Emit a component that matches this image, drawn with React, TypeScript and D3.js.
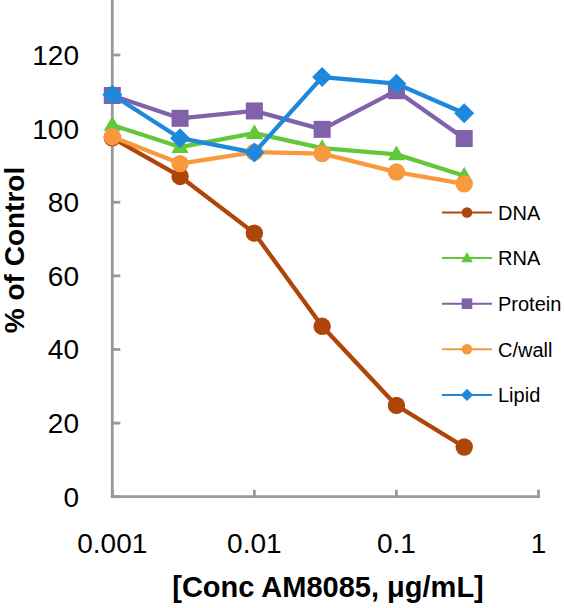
import React from "react";
import * as d3 from "d3";

const concentrations = [0.001, 0.003, 0.01, 0.03, 0.1, 0.3];
const dnaValues = [97.5, 87, 71.6, 46.3, 24.8, 13.5];
const rnaValues = [101, 95, 98.8, 94.7, 93, 87.2];
const proteinValues = [109, 102.8, 104.8, 99.8, 110.3, 97.3];
const cwallValues = [97.8, 90.5, 93.6, 93.2, 88.2, 85];
const lipidValues = [109.2, 97.4, 93.5, 114, 112.2, 104.2];

const seriesNames = ["DNA", "RNA", "Protein", "C/wall", "Lipid"];
const seriesColors = ["#B0450A", "#62C83A", "#8161AA", "#F8993E", "#1E88DC"];
const seriesMarkers = ["circle", "triangle", "square", "circle", "diamond"];
const seriesValues = [dnaValues, rnaValues, proteinValues, cwallValues, lipidValues];

const yTicks = [0, 20, 40, 60, 80, 100, 120];
const xTicks = [0.001, 0.01, 0.1, 1];
const xTickLabels = ["0.001", "0.01", "0.1", "1"];

const FONT = "'Liberation Sans', Arial, sans-serif";

function Marker({ type, cx, cy, s, color }: { type: string; cx: number; cy: number; s: number; color: string }) {
  if (type === "circle") return <circle cx={cx} cy={cy} r={s} fill={color} />;
  if (type === "square") return <rect x={cx - s} y={cy - s} width={2 * s} height={2 * s} fill={color} />;
  if (type === "diamond") {
    const d = s * 1.15;
    return <path d={`M${cx},${cy - d}L${cx + d},${cy}L${cx},${cy + d}L${cx - d},${cy}Z`} fill={color} />;
  }
  const h = s * 1.9;
  const w = s * 1.1;
  return <path d={`M${cx},${cy - h * 0.6}L${cx + w},${cy + h * 0.4}L${cx - w},${cy + h * 0.4}Z`} fill={color} />;
}

export default function App() {
  const W = 564;
  const H = 608;
  const x = d3.scaleLog().domain([0.001, 1]).range([112.3, 538.5]);
  const y = d3.scaleLinear().domain([0, 120]).range([496.7, 55]);
  const line = d3
    .line<[number, number]>()
    .x((d) => x(d[0]))
    .y((d) => y(d[1]));
  const axisColor = "#999999";
  const legendX0 = 442;
  const legendX1 = 492;
  const legendY0 = 212.5;
  const legendStep = 45.6;

  return (
    <svg
      width={W}
      height={H}
      style={{ position: "absolute", left: 0, top: 0, background: "#fff" }}
      fontFamily={FONT}
    >
      {/* axes */}
      <line x1={x(0.001)} x2={x(0.001)} y1={0} y2={y(0) + 1.4} stroke={axisColor} strokeWidth={2.8} />
      <line x1={x(0.001) - 1.4} x2={x(1) + 1.4} y1={y(0)} y2={y(0)} stroke={axisColor} strokeWidth={2.8} />
      {yTicks.map((t) => (
        <g key={`yt${t}`}>
          <line x1={x(0.001)} x2={x(0.001) + 8} y1={y(t)} y2={y(t)} stroke={axisColor} strokeWidth={2.8} />
          <text x={79} y={y(t) + 10} textAnchor="end" fontSize={28} fill="#000">
            {t}
          </text>
        </g>
      ))}
      {xTicks.map((t, i) => (
        <g key={`xt${t}`}>
          <line x1={x(t)} x2={x(t)} y1={y(0)} y2={y(0) - 7} stroke={axisColor} strokeWidth={2.8} />
          <text x={x(t)} y={553} textAnchor="middle" fontSize={28} fill="#000">
            {xTickLabels[i]}
          </text>
        </g>
      ))}
      <text
        transform="translate(24,250) rotate(-90)"
        textAnchor="middle"
        fontSize={28}
        fontWeight="bold"
        fill="#000"
      >
        % of Control
      </text>
      <text x={328} y={597} textAnchor="middle" fontSize={29} fontWeight="bold" fill="#000">
        [Conc AM8085, μg/mL]
      </text>

      {/* series */}
      {seriesValues.map((vals, si) => {
        const pts = concentrations.map((c, i) => [c, vals[i]] as [number, number]);
        return (
          <g key={seriesNames[si]}>
            <path d={line(pts) || ""} fill="none" stroke={seriesColors[si]} strokeWidth={4.3} strokeLinejoin="round" />
            {pts.map((p, i) => (
              <Marker
                key={i}
                type={seriesMarkers[si]}
                cx={x(p[0])}
                cy={y(p[1])}
                s={seriesMarkers[si] === "square" ? 8.5 : seriesMarkers[si] === "triangle" ? 7.8 : 8.7}
                color={seriesColors[si]}
              />
            ))}
          </g>
        );
      })}

      {/* legend */}
      {seriesNames.map((name, si) => {
        const ly = legendY0 + si * legendStep;
        const mx = (legendX0 + legendX1) / 2;
        return (
          <g key={`lg${name}`}>
            <line x1={legendX0} x2={legendX1} y1={ly} y2={ly} stroke={seriesColors[si]} strokeWidth={2} />
            <Marker type={seriesMarkers[si]} cx={mx} cy={ly} s={5.3} color={seriesColors[si]} />
            <text x={498} y={ly + 7.3} fontSize={20} fill="#000">
              {name}
            </text>
          </g>
        );
      })}
    </svg>
  );
}
